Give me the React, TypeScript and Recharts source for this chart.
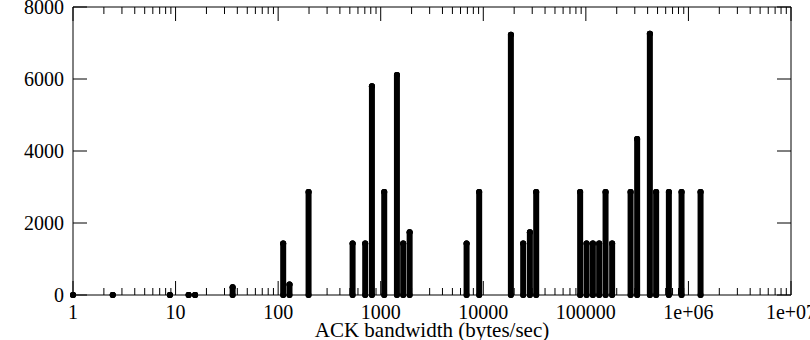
import React from 'react';
import { ScatterChart, Scatter, ErrorBar, XAxis, YAxis } from 'recharts';

// ACK bandwidth (bytes/sec) and how often each one was seen
const bandwidth = [
  1, 2.44, 8.8, 13.4, 15.5, 36, 112, 129, 198, 532, 706, 821, 1082, 1439, 1657, 1914,
  6874, 9120, 18580, 24490, 28460, 32800, 87960, 101600, 117000, 134800, 155600, 180400,
  272900, 316300, 420700, 484400, 644600, 856800, 1313000,
];
const counts = [
  0, 0, 0, 0, 0, 215, 1430, 290, 2860, 1430, 1430, 5800, 2860, 6110, 1430, 1740,
  1430, 2860, 7230, 1430, 1740, 2860, 2860, 1430, 1430, 1430, 2860, 1430,
  2860, 4330, 7260, 2860, 2860, 2860, 2860,
];

const decades = [1, 10, 100, 1000, 10000, 100000, 1000000, 10000000];
const decadeLabels = ['1', '10', '100', '1000', '10000', '100000', '1e+06', '1e+07'];
const yTicks = [0, 2000, 4000, 6000, 8000];

const data = bandwidth.map((b, i) => ({ bw: b, n: counts[i], err: [counts[i], 0] }));

// major ticks on decades, minor at 2..9 of each decade
const xTicks: number[] = [];
decades.forEach((d, i) => {
  xTicks.push(d);
  if (i < decades.length - 1) for (let m = 2; m <= 9; m++) xTicks.push(d * m);
});

const font = '"Liberation Serif", "Times New Roman", serif';

const labelFor = (v: number) => {
  const i = decades.findIndex((d) => Math.abs(d - v) < d * 1e-6);
  return i >= 0 ? decadeLabels[i] : null;
};

const BottomTick = (props: any) => {
  const { x, y, payload } = props;
  const label = labelFor(payload.value);
  return (
    <g>
      <line x1={x} x2={x} y1={y} y2={y - (label ? 14 : 7)} stroke="#000" />
      {label && (
        <text x={x} y={y + 24} textAnchor="middle" fontFamily={font} fontSize={20} fill="#000">
          {label}
        </text>
      )}
    </g>
  );
};

const TopTick = (props: any) => {
  const { x, y, payload } = props;
  const major = labelFor(payload.value) !== null;
  return <line x1={x} x2={x} y1={y} y2={y + (major ? 14 : 7)} stroke="#000" />;
};

const LeftTick = (props: any) => {
  const { x, y, payload } = props;
  return (
    <g>
      <line x1={x} x2={x + 14} y1={y} y2={y} stroke="#000" />
      <text x={x - 9} y={y + 7} textAnchor="end" fontFamily={font} fontSize={20} fill="#000">
        {payload.value}
      </text>
    </g>
  );
};

const RightTick = (props: any) => {
  const { x, y } = props;
  return <line x1={x} x2={x - 14} y1={y} y2={y} stroke="#000" />;
};

const AxisTitle = (p: any) => {
  const vb = p.viewBox;
  return (
    <text x={vb.x + vb.width / 2} y={vb.y + vb.height - 3} textAnchor="middle" fontFamily={font} fontSize={21} fill="#000">
      ACK bandwidth (bytes/sec)
    </text>
  );
};

export default function App() {
  return (
    <div style={{ position: 'absolute', left: 0, top: 0, background: '#fff' }}>
      <style>{'.recharts-errorBar line { stroke-linecap: round; }'}</style>
      <ScatterChart width={810} height={340} margin={{ top: 0, right: 0, bottom: 0, left: 0 }}>
        <XAxis
          dataKey="bw"
          type="number"
          scale="log"
          domain={[1, 10000000]}
          allowDataOverflow
          ticks={xTicks}
          interval={0}
          height={45}
          tickSize={0}
          tickMargin={0}
          tickLine={false}
          tick={<BottomTick />}
          axisLine={{ stroke: '#000' }}
          label={{ content: AxisTitle }}
        />
        <XAxis
          xAxisId="top"
          orientation="top"
          dataKey="bw"
          type="number"
          scale="log"
          domain={[1, 10000000]}
          allowDataOverflow
          ticks={xTicks}
          interval={0}
          height={7}
          tickSize={0}
          tickMargin={0}
          tickLine={false}
          tick={<TopTick />}
          axisLine={{ stroke: '#000' }}
        />
        <YAxis
          dataKey="n"
          type="number"
          domain={[0, 8000]}
          allowDataOverflow
          ticks={yTicks}
          interval={0}
          width={73}
          tickSize={0}
          tickMargin={0}
          tickLine={false}
          tick={<LeftTick />}
          axisLine={{ stroke: '#000' }}
        />
        <YAxis
          yAxisId="right"
          orientation="right"
          dataKey="n"
          type="number"
          domain={[0, 8000]}
          allowDataOverflow
          ticks={yTicks}
          interval={0}
          width={19}
          tickSize={0}
          tickMargin={0}
          tickLine={false}
          tick={<RightTick />}
          axisLine={{ stroke: '#000' }}
        />
        <Scatter
          data={data}
          xAxisId="top"
          yAxisId="right"
          isAnimationActive={false}
          shape={() => <g />}
        />
        <Scatter
          data={data}
          fill="#000"
          isAnimationActive={false}
          shape={(p: any) => <circle cx={p.cx} cy={p.cy} r={3} fill="#000" />}
        >
          <ErrorBar
            dataKey="err"
            direction="y"
            width={0}
            stroke="#000"
            strokeWidth={6}
            strokeLinecap="round"
            isAnimationActive={false}
          />
        </Scatter>
      </ScatterChart>
    </div>
  );
}
